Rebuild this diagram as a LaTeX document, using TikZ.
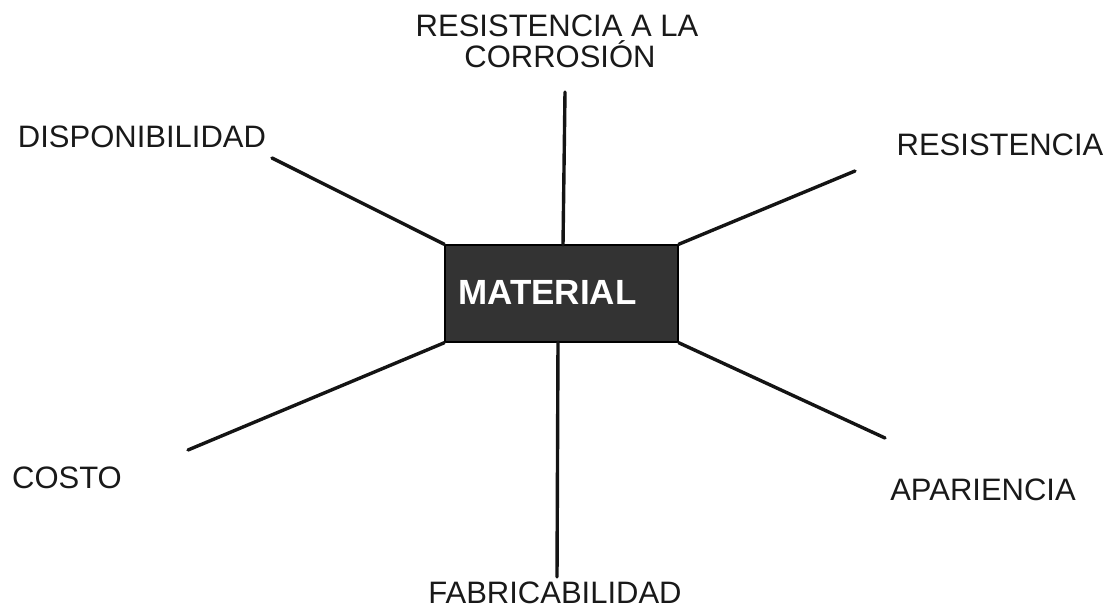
\documentclass[tikz,border=0pt]{standalone}
\usepackage{fontspec}
\setmainfont{Liberation Sans}
\begin{document}
\begin{tikzpicture}[x=1pt,y=-1pt,
  lbl/.style={font=\fontsize{31}{31}\selectfont, inner sep=0pt, align=center, text=black!90},
  spoke/.style={line width=3.4pt, black!92, line cap=round},
  matbox/.style={fill=black!80, draw=black, line width=1.5pt, minimum width=233pt, minimum height=97pt, inner sep=0pt}]
\useasboundingbox (0,0) rectangle (1114,610);
\node[matbox] (mat) at (561.5,293.5) {};
\node[font=\bfseries\fontsize{35}{40}\selectfont, text=white, inner sep=0pt] (mtxt) at (547.5,292.5) {MATERIAL};
% labels
\node[lbl, anchor=base] (corr1) at (557,37) {RESISTENCIA A LA};
\node[lbl, anchor=base] (corr2) at (560,68) {CORROSIÓN};
\node[lbl, anchor=base] (disp) at (142,147) {DISPONIBILIDAD};
\node[lbl, anchor=base] (res) at (1000,155) {RESISTENCIA};
\node[lbl, anchor=base] (costo) at (67,488) {COSTO};
\node[lbl, anchor=base] (apar) at (983,500) {APARIENCIA};
\node[lbl, anchor=base] (fab) at (555,603) {FABRICABILIDAD};
% line ends
\coordinate (t1) at (565,92);
\coordinate (t0) at (563,245);
\coordinate (b0) at (558,342);
\coordinate (b1) at (557,577);
\coordinate (lt) at (272,158);
\coordinate (rt) at (855,171);
\coordinate (lb) at (188,450);
\coordinate (rb) at (885,438);
\draw[spoke] (t0) -- (t1);
\draw[spoke] (b0) -- (b1);
\draw[spoke] (mat.north west) -- (lt);
\draw[spoke] (mat.north east) -- (rt);
\draw[spoke] (mat.south west) -- (lb);
\draw[spoke] (mat.south east) -- (rb);
\end{tikzpicture}
\end{document}
